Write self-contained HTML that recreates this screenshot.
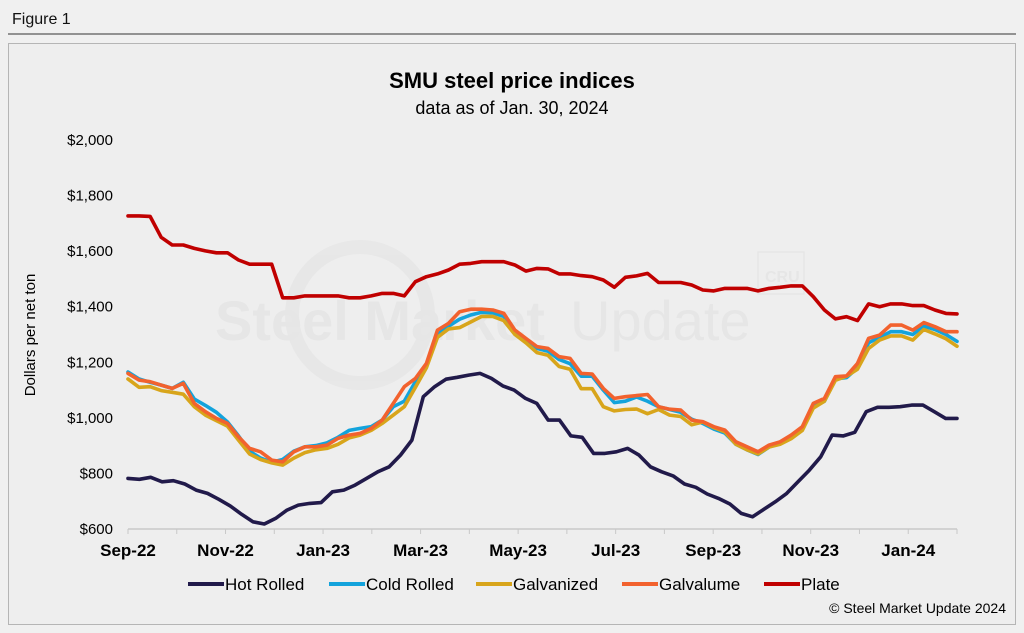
<!DOCTYPE html>
<html><head><meta charset="utf-8"><style>
html,body{margin:0;padding:0;background:#f0f0f0;width:1024px;height:633px;overflow:hidden;font-family:"Liberation Sans",Arial,sans-serif}
.n{font-family:"Liberation Sans Narrow","Liberation Sans",Arial,sans-serif}
</style></head><body>
<svg id="c" width="1024" height="633" viewBox="0 0 1024 633" xmlns="http://www.w3.org/2000/svg">
<text x="12" y="24" font-size="16" fill="#111">Figure 1</text>
<line x1="8" y1="34" x2="1016" y2="34" stroke="#333" stroke-width="1"/>
<rect x="8.5" y="43.5" width="1007" height="581" fill="#eeeeee" stroke="#b5b5b5"/>
<g opacity="0.35">
<circle cx="360" cy="315" r="68" fill="none" stroke="#dcdcdc" stroke-width="14"/>
<text x="215" y="340" font-size="56" font-weight="bold" fill="#d8d8d8">Steel Market</text>
<text x="570" y="340" font-size="56" fill="#d8d8d8">Update</text>
<rect x="758" y="252" width="46" height="42" fill="none" stroke="#d8d8d8" stroke-width="1.5"/>
<text x="765" y="282" font-size="16" font-weight="bold" fill="#d8d8d8">CRU</text>
</g>
<text x="512" y="88" text-anchor="middle" font-size="22" font-weight="bold" fill="#000">SMU steel price indices</text>
<text x="512" y="114" text-anchor="middle" font-size="18" fill="#000">data as of Jan. 30, 2024</text>
<text transform="translate(35,335) rotate(-90)" text-anchor="middle" font-size="15" fill="#000">Dollars per net ton</text>
<g id="yt"></g><g id="xt"></g><g id="lines"></g>
<g id="legend"></g>
<text x="1006" y="613" text-anchor="end" font-size="14" fill="#000" class="n">© Steel Market Update 2024</text>
</svg>
<script>
const yTicks=[600,800,1000,1200,1400,1600,1800,2000];
const xLabels=["Sep-22","Nov-22","Jan-23","Mar-23","May-23","Jul-23","Sep-23","Nov-23","Jan-24"];
const seriesNames=["Hot Rolled","Cold Rolled","Galvanized","Galvalume","Plate"];
const hotRolled=[782,779,786,770,774,762,740,728,707,683,653,626,618,638,668,686,692,695,734,740,758,782,806,824,866,920,1076,1112,1139,1146,1154,1160,1142,1115,1100,1070,
1052,992,992,935,930,872,872,878,890,866,824,806,791,762,750,726,710,690,656,644,671,698,728,770,812,860,938,935,948,1022,1038,1038,1040,1046,1046,1022,998,998];
const coldRolled=[1165,1140,1128,1118,1106,1128,1068,1045,1020,985,935,880,855,840,850,880,896,900,910,930,955,962,968,992,1040,1060,1130,1190,1300,1330,1355,1370,1380,1378,1365,1310,1280,1250,
1240,1210,1195,1150,1150,1100,1055,1060,1075,1060,1040,1030,1020,995,980,960,945,905,885,868,895,910,935,960,1040,1060,1140,1145,1180,1270,1290,1310,1310,1300,1330,1318,1300,1275];
const galvanized=[1140,1110,1112,1098,1092,1085,1040,1010,990,970,920,870,850,838,830,855,875,885,890,905,928,938,955,980,1010,1040,1110,1180,1290,1320,1325,1345,1365,1365,1350,1300,1270,1235,
1225,1185,1175,1105,1105,1040,1025,1030,1032,1015,1030,1010,1005,975,985,965,950,905,885,870,895,905,925,955,1035,1060,1135,1150,1175,1250,1280,1295,1295,1280,1318,1302,1285,1258];
const galvalume=[1160,1136,1130,1118,1106,1124,1052,1022,998,980,932,890,878,848,842,878,896,896,902,926,938,944,962,992,1052,1112,1142,1196,1316,1340,1382,1391,1391,1388,1376,1316,1286,1256,
1250,1220,1214,1160,1158,1106,1070,1076,1080,1084,1040,1031,1028,992,986,968,956,914,896,878,902,914,938,968,1052,1070,1148,1151,1196,1286,1298,1334,1334,1316,1343,1328,1310,1310];
const plate=[1727,1727,1725,1650,1622,1622,1610,1601,1594,1594,1568,1553,1553,1553,1432,1432,1439,1439,1439,1439,1432,1432,1439,1448,1448,1439,1490,1508,1518,1532,1553,1556,1562,1562,1562,1550,1528,1538,
1536,1518,1518,1512,1508,1496,1470,1506,1511,1520,1487,1487,1487,1478,1460,1457,1466,1466,1466,1457,1466,1470,1475,1475,1436,1388,1356,1364,1350,1410,1400,1410,1410,1404,1404,1388,1376,1374];
const colors=["#211a4a","#13a3dc","#d8a51b","#f2622e","#c00000"];
const allSeries=[hotRolled,coldRolled,galvanized,galvalume,plate];

const NS="http://www.w3.org/2000/svg";
const X0=128,X1=957,Y0=529,Y1=140,VMIN=600,VMAX=2000,MONTH=(X1-X0)/17;
const yScale=v=>Y0-(v-VMIN)/(VMAX-VMIN)*(Y0-Y1);
const xScale=(i,n)=>X0+i*(X1-X0)/(n-1);
function mk(tag,attrs,parent){const e=document.createElementNS(NS,tag);for(const k in attrs)e.setAttribute(k,attrs[k]);parent.appendChild(e);return e;}
const yt=document.getElementById('yt');
yTicks.forEach(v=>{
  const t=mk('text',{x:113,y:yScale(v)+5,'text-anchor':'end','font-size':15,fill:'#000'},yt);
  
  
  t.textContent='$'+v.toLocaleString('en-US');
});
const xt=document.getElementById('xt');
const ax=mk('line',{x1:X0,y1:Y0,x2:X1,y2:Y0,stroke:'#c8c8c8','stroke-width':1.5},xt);


for(let m=0;m<=17;m++){
  const tk=mk('line',{x1:X0+m*MONTH,y1:Y0,x2:X0+m*MONTH,y2:Y0+5,stroke:'#c8c8c8','stroke-width':1},xt);
  
  
}
xLabels.forEach((l,i)=>{
  const t=mk('text',{x:X0+i*2*MONTH,y:556,'text-anchor':'middle','font-size':17,'font-weight':'bold',fill:'#000',class:'n'},xt);
  
  
  t.textContent=l;
});
const lg=document.getElementById('lines');
allSeries.forEach((s,k)=>{
  const d=s.map((v,i)=>(i?'L':'M')+xScale(i,s.length).toFixed(1)+','+yScale(v).toFixed(1)).join('');
  const p=mk('path',{d:d,fill:'none',stroke:colors[k],'stroke-width':3.6,'stroke-linejoin':'round','stroke-linecap':'round'},lg);
  
  
});
const leg=document.getElementById('legend');
const legX=[188,329,476,622,764];
seriesNames.forEach((n,k)=>{
  const g=mk('g',{},leg);
  
  
  mk('line',{x1:legX[k],y1:584,x2:legX[k]+36,y2:584,stroke:colors[k],'stroke-width':4},g);
  const t=mk('text',{x:legX[k]+37,y:590,'font-size':17,fill:'#000',class:'n'},g);
  t.textContent=n;
});
</script>
</body></html>
